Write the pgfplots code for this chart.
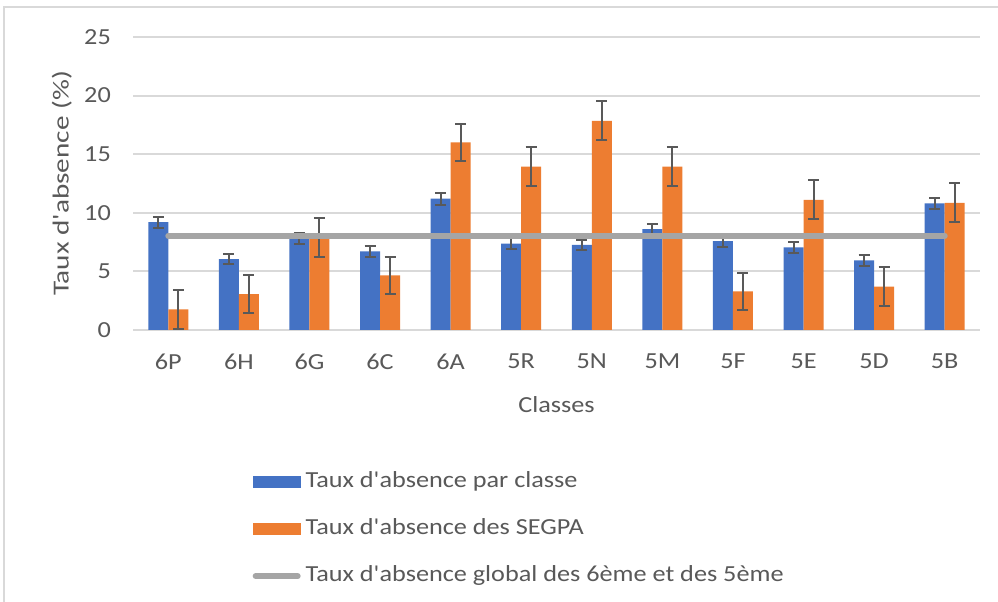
\documentclass[border=0pt]{standalone}
\usepackage{pgfplots}
\pgfplotsset{compat=1.18}
\usepackage{pgfplotstable}
\usepackage{fontspec}
\setmainfont{Carlito}[Ligatures=TeXOff, FakeStretch=1.14]
\newfontfamily\ylfont{Carlito}[Ligatures=TeXOff, FakeStretch=1.27]
\definecolor{cblue}{HTML}{4472C4}
\definecolor{corange}{HTML}{ED7D31}
\definecolor{cgray}{HTML}{A5A5A5}
\definecolor{ctext}{HTML}{595959}
\definecolor{cgrid}{HTML}{D9D9D9}
\definecolor{cerr}{HTML}{595959}
\pgfplotstableread{
x b be o oe
0 9.2 0.47 1.76 1.65
1 6.05 0.45 3.07 1.6
2 7.8 0.5 7.92 1.65
3 6.7 0.47 4.65 1.6
4 11.2 0.52 16.0 1.6
5 7.38 0.45 13.95 1.65
6 7.27 0.45 17.85 1.65
7 8.6 0.48 13.95 1.65
8 7.58 0.5 3.3 1.6
9 7.05 0.45 11.1 1.67
10 5.93 0.5 3.7 1.67
11 10.8 0.47 10.85 1.65
}\data
\begin{document}
\begin{tikzpicture}[x=1pt,y=1pt]
\useasboundingbox (0,0) rectangle (998,602);
\fill[white] (0,0) rectangle (998,602);
\draw[cgrid, line width=1.2pt] (4,0) -- (4,595) -- (998,595);
\begin{axis}[
  at={(133pt,272pt)}, anchor=south west,
  scale only axis, width=847pt, height=293pt,
  xmin=-0.5, xmax=11.5, ymin=0, ymax=25,
  xtick={0,...,11},
  xticklabels={6P,6H,6G,6C,6A,5R,5N,5M,5F,5E,5D,5B},
  ytick={0,5,...,25},
  axis line style={draw=none},
  ymajorgrids, grid style={cgrid, line width=2pt},
  major tick length=0pt,
  /pgf/number format/assume math mode=true,
  tick label style={font=\fontsize{23}{27}\selectfont, text=ctext},
  yticklabel style={anchor=east, inner sep=0pt, xshift=-22pt},
  xticklabel style={anchor=north, inner sep=0pt, yshift=-24pt},
  xlabel={Classes}, ylabel={\ylfont Taux d'absence (\%)},
  label style={font=\fontsize{23}{27}\selectfont, text=ctext},
  x label style={at={(rel axis cs:0.5,-0.256)}, anchor=center},
  y label style={at={(rel axis cs:-0.084,0.5)}, anchor=center},
  legend style={at={(rel axis cs:0.1375,-0.474)}, anchor=north west, draw=none, fill=none,
    font=\fontsize{23}{27}\selectfont, text=ctext,
    nodes={inner sep=0pt, text height=16pt, text depth=6pt},
    row sep=25pt},
  legend cell align=left,
  /tikz/every odd column/.append style={column sep=5pt},
]
\addplot[ybar, bar width=20pt, bar shift=0pt, fill=cblue, draw=none,
  legend image code/.code={\fill[cblue] (0pt,-6pt) rectangle (48pt,6pt);},
  error bars/.cd, y dir=both, y explicit,
  error bar style={cerr, line width=2pt},
  error mark options={cerr, rotate=90, mark size=5.5pt, line width=2pt}]
  table[x expr=\thisrow{x}-0.1417, y=b, y error=be] {\data};
\addlegendentry{Taux d'absence par classe}
\addplot[ybar, bar width=20pt, bar shift=0pt, fill=corange, draw=none,
  legend image code/.code={\fill[corange] (0pt,-6pt) rectangle (48pt,6pt);},
  error bars/.cd, y dir=both, y explicit,
  error bar style={cerr, line width=2pt},
  error mark options={cerr, rotate=90, mark size=5.5pt, line width=2pt}]
  table[x expr=\thisrow{x}+0.1417, y=o, y error=oe] {\data};
\addlegendentry{Taux d'absence des SEGPA}
\addplot[cgray, line width=6pt, line cap=round, mark=none,
  legend image code/.code={\draw[cgray, line width=6pt, line cap=round] (3pt,0pt) -- (45pt,0pt);}]
  coordinates {(0,8.04) (11,8.04)};
\addlegendentry{Taux d'absence global des 6ème et des 5ème}
\end{axis}
\end{tikzpicture}
\end{document}
